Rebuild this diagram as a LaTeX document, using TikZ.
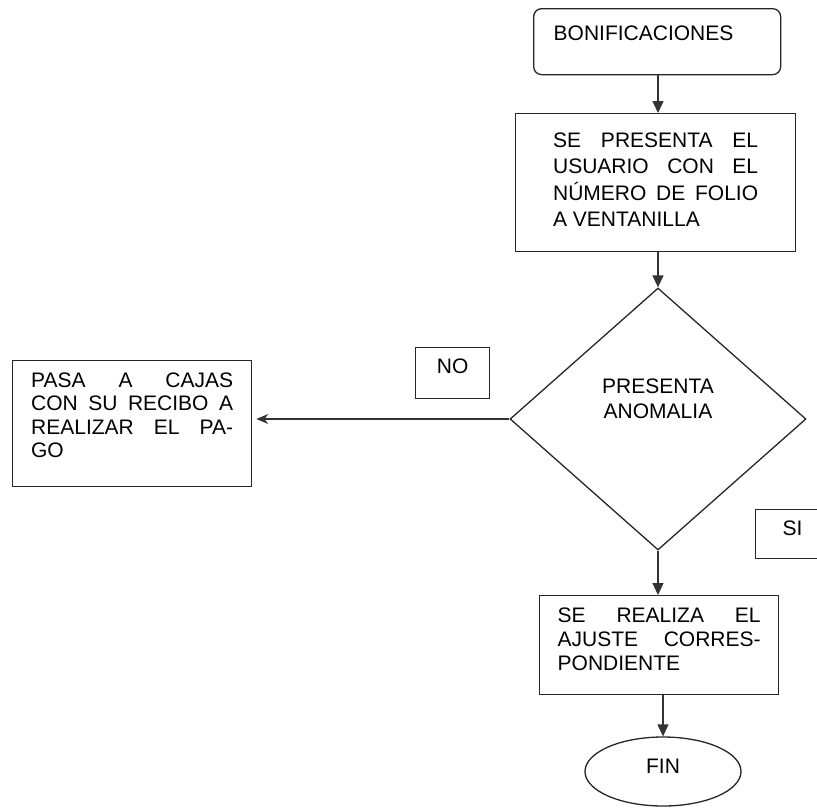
\documentclass[tikz,border=0pt]{standalone}
\usepackage{fontspec}
\setmainfont{Liberation Sans}
\usetikzlibrary{arrows.meta,shapes.geometric}
\tolerance=9999
\begin{document}
\begin{tikzpicture}[
x=1pt, y=-1pt,
box/.style={
draw=black!85,
line width=1.3pt,
anchor=north west,
align=justify,
inner ysep=0pt,
font=\fontsize{21}{24}\selectfont
},
etiqueta/.style={
draw=black!85,
line width=1.3pt,
anchor=north west,
inner sep=0pt,
minimum width=74pt,
text height=26pt,
font=\fontsize{21}{24}\selectfont
},
arrow/.style={-{Triangle[length=12pt,width=11pt]}, line width=1.3pt, draw=black!80},
arrowleft/.style={-{Stealth[length=12pt,width=10pt]}, line width=1.3pt, draw=black!80, shorten >=4pt}
]
\useasboundingbox (0,0) rectangle (817,807);
\node[box, rounded corners=8pt, align=left, inner xsep=20pt, text width=207pt,
text height=32pt, text depth=34pt] (bonificaciones) at (533,8) {BONIFICACIONES};
\node[box, inner xsep=37.5pt, text width=205pt, text height=34pt, text depth=104pt,
font=\fontsize{21}{26.3}\selectfont] (usuario) at (515,113)
{SE PRESENTA EL\linebreak USUARIO CON EL\linebreak N\'UMERO DE FOLIO\linebreak A VENTANILLA};
\node[diamond, draw=black!85, line width=1.3pt, inner sep=0pt, minimum width=296pt,
minimum height=262pt, text width=130pt, align=center, text height=15pt, text depth=67pt,
font=\fontsize{21}{25}\selectfont] (anomalia) at (658,419) {PRESENTA\\ANOMALIA};
\node[box, inner xsep=18.5pt, text width=202pt, text height=27pt, text depth=99pt,
font=\fontsize{21}{23.3}\selectfont] (pasaCajas) at (12,360)
{PASA A CAJAS\linebreak CON SU RECIBO A\linebreak REALIZAR EL PA-\linebreak GO};
\node[box, inner xsep=18pt, text width=203pt, text height=27pt, text depth=72pt] (ajuste) at (539,595)
{SE REALIZA EL\linebreak AJUSTE CORRES-\linebreak PONDIENTE};
\node[ellipse, draw=black!85, line width=1.3pt, inner sep=0pt, minimum width=156pt,
minimum height=69pt, text height=15pt, text depth=12pt,
font=\fontsize{21}{24}\selectfont] (fin) at (663,771.5) {FIN};
\node[etiqueta, text depth=25pt] (etiquetaNo) at (415,347) {NO};
\node[etiqueta, text depth=23pt] (etiquetaSi) at (755,509) {SI};
\draw[arrow] (bonificaciones.south -| anomalia.north) -- (usuario.north -| anomalia.north);
\draw[arrow] (usuario.south -| anomalia.north) -- (anomalia.north);
\draw[arrowleft] (anomalia.west) -- (anomalia.west -| pasaCajas.east);
\draw[arrow] (anomalia.south) -- (anomalia.south |- ajuste.north);
\draw[arrow] (ajuste.south -| fin.north) -- (fin.north);
\end{tikzpicture}
\end{document}
